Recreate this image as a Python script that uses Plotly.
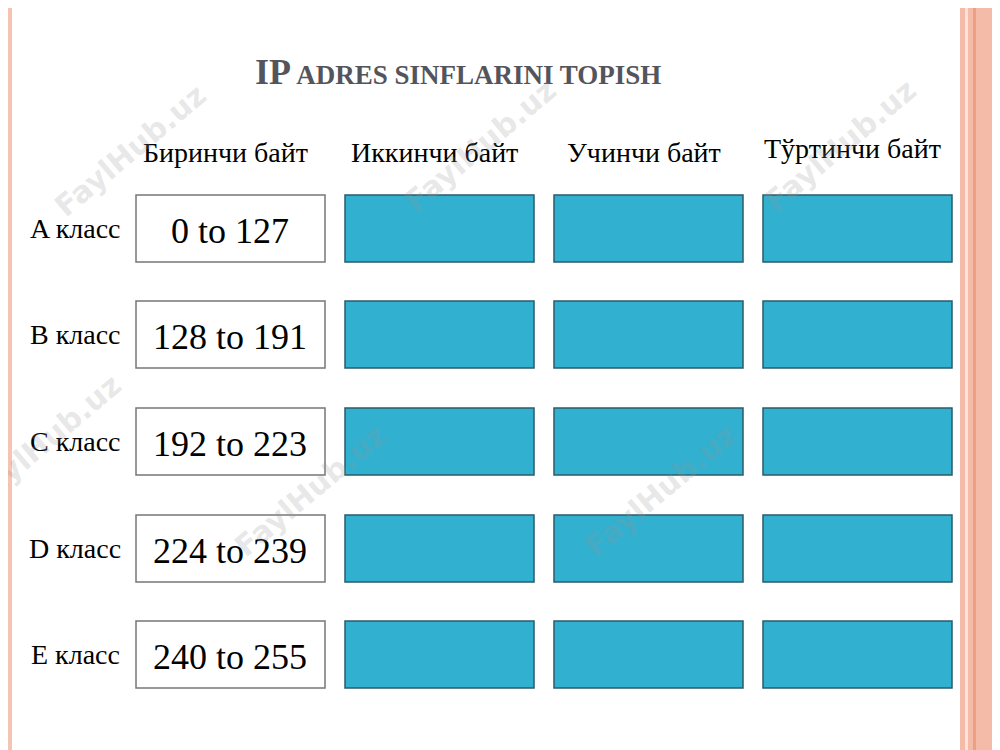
import plotly.graph_objects as go

classes = ["A класс", "B класс", "C класс", "D класс", "E класс"]
headers = ["Биринчи байт", "Иккинчи байт", "Учинчи байт", "Тўртинчи байт"]
first_byte = ["0 to 127", "128 to 191", "192 to 223", "224 to 239", "240 to 255"]

col_x0 = [136, 345, 554, 763]
col_w = 189
row_y0 = [195, 301, 408, 515, 621]
row_h = 67

fig = go.Figure()
shapes = []
ann = []

# side stripes
shapes.append(dict(type="rect", x0=5, x1=12, y0=0, y1=758, fillcolor="#f6c4b2", line_width=0, layer="below"))
shapes.append(dict(type="rect", x0=960, x1=1010, y0=0, y1=758, fillcolor="#f4bca8", line_width=0, layer="below"))
shapes.append(dict(type="rect", x0=965, x1=968, y0=0, y1=758, fillcolor="#fbe3da", line_width=0, layer="below"))
shapes.append(dict(type="rect", x0=973, x1=976, y0=0, y1=758, fillcolor="#ee9f80", line_width=0, layer="below"))

for r, cls in enumerate(classes):
    y0 = row_y0[r]
    for c in range(4):
        x0 = col_x0[c]
        if c == 0:
            shapes.append(dict(type="rect", x0=x0, x1=x0 + col_w, y0=y0, y1=y0 + row_h,
                               fillcolor="white", line=dict(color="#777", width=1.5)))
        else:
            shapes.append(dict(type="rect", x0=x0, x1=x0 + col_w, y0=y0, y1=y0 + row_h,
                               fillcolor="#31b0d0", line=dict(color="#2b5b6a", width=1.5)))
    ann.append(dict(x=230, y=y0 + row_h / 2 + 2, text=first_byte[r], showarrow=False,
                    font=dict(family="Liberation Serif, serif", size=36, color="black")))
    ann.append(dict(x=75, y=y0 + row_h / 2, text=cls, showarrow=False,
                    font=dict(family="Liberation Serif, serif", size=28, color="black")))

for c, h in enumerate(headers):
    ann.append(dict(x=col_x0[c] + col_w / 2 - 5, y=152 - (c == 3) * 4, text=h, showarrow=False,
                    font=dict(family="Liberation Serif, serif", size=28, color="black")))

ann.append(dict(x=458, y=72, showarrow=False,
                text="<b><span style='font-size:36px'>IP</span> ADRES SINFLARINI TOPISH</b>",
                font=dict(family="Liberation Serif, serif", size=27, color="#54555c")))

# watermarks
for wx, wy in [(130, 150), (480, 145), (840, 145), (45, 440), (310, 490), (660, 490)]:
    ann.append(dict(x=wx, y=wy, text="<b>FaylHub.uz</b>", showarrow=False, textangle=-40,
                    font=dict(family="DejaVu Sans", size=30, color="rgba(150,150,150,0.22)")))

# page renders with an 8px body offset, so shift the ranges to compensate
fig.update_layout(
    width=1000, height=750, margin=dict(l=0, r=0, t=0, b=0),
    paper_bgcolor="white", plot_bgcolor="white",
    xaxis=dict(range=[8, 1008], visible=False, fixedrange=True),
    yaxis=dict(range=[758, 8], visible=False, fixedrange=True),
    shapes=shapes, annotations=ann, showlegend=False,
)
fig.write_html("out.html")
